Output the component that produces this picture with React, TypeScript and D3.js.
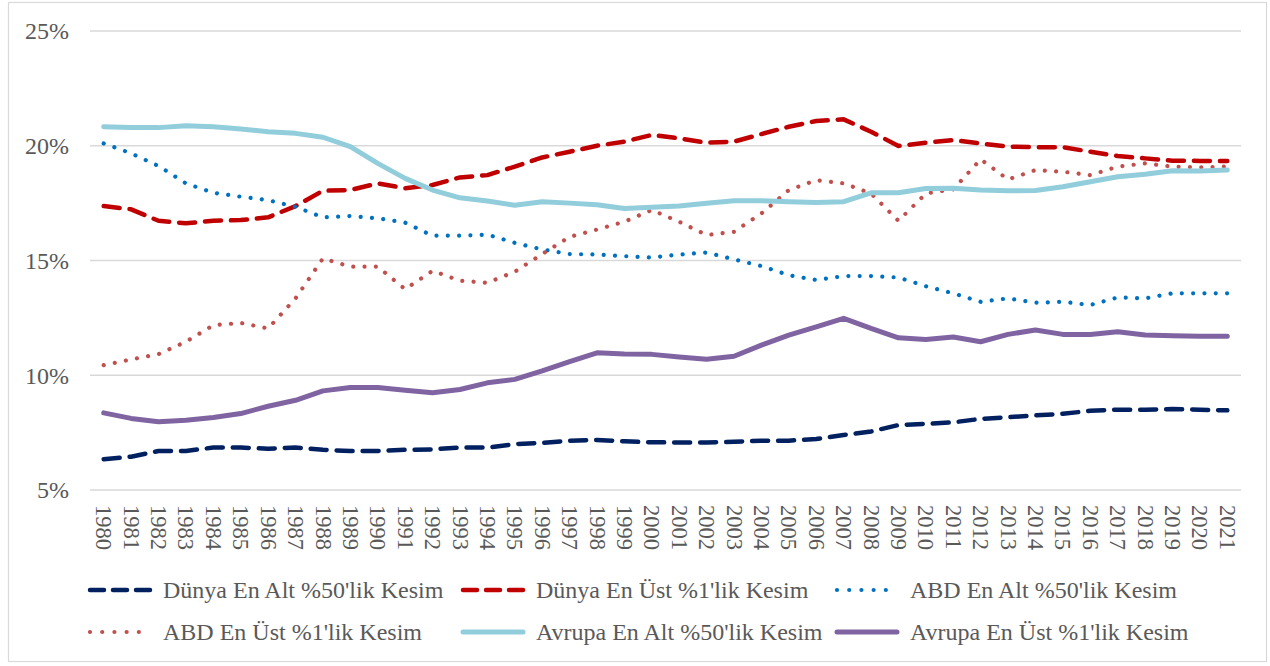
import React from 'react';
import * as d3 from 'd3';

const years = d3.range(1980, 2022).map(String);

const yTicks = [5, 10, 15, 20, 25];

const dunyaAlt50 = [6.34, 6.45, 6.7, 6.7, 6.85, 6.85, 6.8, 6.85, 6.75, 6.7, 6.7, 6.75, 6.77, 6.85, 6.85, 7.0, 7.05, 7.15, 7.18, 7.12, 7.08, 7.07, 7.07, 7.1, 7.15, 7.15, 7.22, 7.4, 7.55, 7.83, 7.88, 7.95, 8.1, 8.17, 8.25, 8.32, 8.45, 8.5, 8.5, 8.53, 8.5, 8.47];
const dunyaUst1 = [17.37, 17.23, 16.73, 16.62, 16.73, 16.76, 16.88, 17.37, 18.04, 18.07, 18.36, 18.15, 18.29, 18.62, 18.72, 19.09, 19.49, 19.74, 20.0, 20.18, 20.47, 20.32, 20.13, 20.18, 20.51, 20.83, 21.08, 21.15, 20.61, 19.99, 20.13, 20.25, 20.1, 19.96, 19.94, 19.94, 19.74, 19.55, 19.45, 19.35, 19.34, 19.34];
const abdAlt50 = [20.1, 19.67, 19.12, 18.36, 17.95, 17.78, 17.63, 17.34, 16.88, 16.94, 16.84, 16.65, 16.08, 16.08, 16.13, 15.77, 15.48, 15.28, 15.26, 15.19, 15.13, 15.26, 15.35, 15.05, 14.76, 14.36, 14.15, 14.32, 14.32, 14.26, 13.88, 13.57, 13.2, 13.35, 13.16, 13.2, 13.06, 13.39, 13.35, 13.57, 13.57, 13.57];
const abdUst1 = [10.44, 10.69, 10.92, 11.46, 12.18, 12.28, 12.04, 13.35, 15.09, 14.73, 14.73, 13.75, 14.55, 14.12, 14.03, 14.51, 15.28, 16.03, 16.35, 16.69, 17.2, 16.69, 16.11, 16.25, 17.05, 18.07, 18.5, 18.36, 17.92, 16.73, 17.92, 18.1, 19.41, 18.53, 18.94, 18.87, 18.72, 19.09, 19.23, 19.09, 19.06, 19.09];
const avrupaAlt50 = [20.83, 20.79, 20.79, 20.87, 20.83, 20.73, 20.61, 20.54, 20.37, 19.96, 19.23, 18.58, 18.07, 17.73, 17.59, 17.41, 17.56, 17.5, 17.43, 17.27, 17.32, 17.37, 17.49, 17.6, 17.6, 17.56, 17.53, 17.56, 17.95, 17.95, 18.14, 18.15, 18.07, 18.04, 18.05, 18.21, 18.43, 18.65, 18.76, 18.91, 18.9, 18.94];
const avrupaUst1 = [8.36, 8.12, 7.97, 8.04, 8.16, 8.33, 8.65, 8.91, 9.32, 9.47, 9.47, 9.35, 9.24, 9.38, 9.67, 9.82, 10.19, 10.59, 10.98, 10.93, 10.91, 10.8, 10.7, 10.83, 11.31, 11.75, 12.11, 12.48, 12.04, 11.63, 11.56, 11.67, 11.46, 11.78, 11.97, 11.78, 11.78, 11.9, 11.75, 11.72, 11.7, 11.7];

const seriesNames = [
  "Dünya En Alt %50'lik Kesim",
  "Dünya En Üst %1'lik Kesim",
  "ABD En Alt %50'lik Kesim",
  "ABD En Üst %1'lik Kesim",
  "Avrupa En Alt %50'lik Kesim",
  "Avrupa En Üst %1'lik Kesim",
];
const seriesValues = [dunyaAlt50, dunyaUst1, abdAlt50, abdUst1, avrupaAlt50, avrupaUst1];

// line styles per series (colour, width, dash, legend dash)
const styles = [
  { color: '#002060', width: 4.5, dash: '16 10', legendDash: '14 9' },
  { color: '#C00000', width: 4.5, dash: '16 10', legendDash: '14 9' },
  { color: '#0070C0', width: 4.2, dash: '0.01 11.3', legendDash: '0.01 12.2' },
  { color: '#C0504D', width: 4.2, dash: '0.01 11.3', legendDash: '0.01 12.2' },
  { color: '#92CDDC', width: 5, dash: undefined, legendDash: undefined },
  { color: '#8064A2', width: 5, dash: undefined, legendDash: undefined },
];

const W = 1270;
const H = 666;
const font = '"Liberation Serif", "Times New Roman", serif';

export default function App() {
  const x = d3.scalePoint<string>().domain(years).range([90, 1241]).padding(0.5);
  const y = d3.scaleLinear().domain([5, 25]).range([490, 31]);

  const line = d3
    .line<number>()
    .x((_, i) => x(years[i]) as number)
    .y((d) => y(d));

  // legend layout: 3 columns, 2 rows
  const legendCols = [88, 461, 835];
  const legendRows = [590, 632];

  return (
    <svg width={W} height={H} style={{ position: 'absolute', left: 0, top: 0 }}>
      <rect x={0} y={0} width={W} height={H} fill="#fff" />
      <rect x={8.5} y={2.5} width={1258} height={659} fill="none" stroke="#d9d9d9" strokeWidth={1.2} />

      {/* grid */}
      {yTicks.map((t) => (
        <g key={t}>
          <line x1={90} x2={1241} y1={y(t)} y2={y(t)} stroke="#d9d9d9" strokeWidth={1.5} />
          <text x={69} y={y(t)} dy="0.35em" textAnchor="end" fontFamily={font} fontSize={24} fill="#595959">
            {t}%
          </text>
        </g>
      ))}

      {/* x labels */}
      {years.map((yr) => (
        <text
          key={yr}
          transform={`translate(${x(yr)},505) rotate(90)`}
          dy="0.33em"
          fontFamily={font}
          fontSize={22.5}
          fill="#595959"
        >
          {yr}
        </text>
      ))}

      {/* series */}
      {seriesValues.map((vals, i) => (
        <path
          key={seriesNames[i]}
          d={line(vals) || ''}
          fill="none"
          stroke={styles[i].color}
          strokeWidth={styles[i].width}
          strokeDasharray={styles[i].dash}
          strokeLinecap="round"
          strokeLinejoin="round"
        />
      ))}

      {/* legend */}
      {seriesNames.map((name, i) => {
        const lx = legendCols[i % 3];
        const ly = legendRows[Math.floor(i / 3)];
        return (
          <g key={name}>
            <line
              x1={lx + 2}
              x2={lx + 62}
              y1={ly}
              y2={ly}
              stroke={styles[i].color}
              strokeWidth={styles[i].width}
              strokeDasharray={styles[i].legendDash}
              strokeLinecap="round"
            />
            <text x={lx + 75} y={ly} dy="0.35em" fontFamily={font} fontSize={24} fill="#595959">
              {name}
            </text>
          </g>
        );
      })}
    </svg>
  );
}
